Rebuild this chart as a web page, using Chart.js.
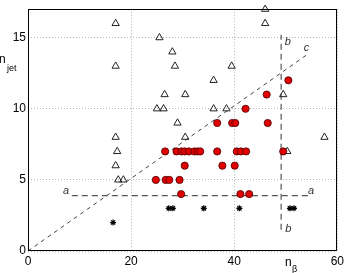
<!DOCTYPE html>
<html>
<head>
<meta charset="utf-8">
<script src="https://cdn.jsdelivr.net/npm/chart.js@4.4.1/dist/chart.umd.min.js"></script>
<style>
  html, body { margin: 0; padding: 0; background: #fff; }
  #wrap { width: 347px; height: 273px; }
</style>
</head>
<body>
<div id="wrap"><canvas id="scatter" width="347" height="273"></canvas></div>
<script>
// tick labels
const xTicks = [0, 20, 40, 60];
const yTicks = [0, 5, 10, 15];

// open triangles
const triX = [17, 25.5, 28, 17, 28.5, 39.5, 36, 26.5, 30.5, 49.5, 25, 26.3, 36, 38.5, 29, 17, 30.5, 57.5, 17.3, 50.3, 17, 17.5, 18.5, 46, 46];
const triY = [16, 15, 14, 13, 13, 13, 12, 11, 11, 11, 10, 10, 10, 10, 9, 8, 8, 8, 7, 7, 6, 5, 5, 17, 16];

// filled red circles
const dotX = [26.6, 28.8, 29.8, 30.4, 31.2, 32.3, 32.9, 33.4, 36.7, 40.5, 41.3, 42.3, 49.5,
              30.4, 37.7, 40.1,
              24.8, 26.7, 27.4, 29.4,
              29.7, 41.2, 42.9,
              36.7, 39.6, 40.2, 46.5,
              42.2, 46.3, 50.5];
const dotY = [7, 7, 7, 7, 7, 7, 7, 7, 7, 7, 7, 7, 7,
              6, 6, 6,
              5, 5, 5, 5,
              4, 4, 4,
              9, 9, 9, 9,
              10, 11, 12];

// asterisks
const starX = [16.5, 27.3, 28.1, 34.1, 41, 50.8, 51.6];
const starY = [2, 3, 3, 3, 3, 3, 3];

// dashed guide lines a, b, c (end points)
const lineAX = [8.5, 55];
const lineAY = [3.9, 3.9];
const lineBX = [49.1, 49.1];
const lineBY = [1.5, 15.2];
const lineCX = [0, 54.5];
const lineCY = [0, 13.9];

// line labels
const noteText = ['a', 'a', 'b', 'b', 'c'];
const noteX = [7.4, 54.9, 50.4, 50.5, 54.0];
const noteY = [4.23, 4.23, 14.67, 1.57, 14.25];

const pts = (xs, ys) => xs.map((x, i) => ({ x: x, y: ys[i] }));

const FONT = '"Liberation Sans", Arial, sans-serif';

// frame + annotation text
const decor = {
    id: 'decor',
    afterDatasetsDraw(chart) {
        const c = chart.ctx;
        const a = chart.chartArea;
        const sx = chart.scales.x, sy = chart.scales.y;
        c.save();
        c.strokeStyle = '#000';
        c.lineWidth = 1;
        c.strokeRect(Math.round(a.left) + 0.5, Math.round(a.top) + 0.5,
            Math.round(a.right - a.left) - 1, Math.round(a.bottom - a.top) - 1);

        c.fillStyle = '#333';
        c.font = 'italic 11px ' + FONT;
        c.textAlign = 'center';
        c.textBaseline = 'middle';
        noteText.forEach((t, i) => {
            c.fillText(t, sx.getPixelForValue(noteX[i]), sy.getPixelForValue(noteY[i]));
        });

        // axis titles
        c.fillStyle = '#000';
        c.textAlign = 'left';
        c.textBaseline = 'alphabetic';
        c.font = '12px ' + FONT;
        c.fillText('n', -1, 63);
        c.font = '9px ' + FONT;
        c.fillText('jet', 7, 71);
        c.font = '12px ' + FONT;
        c.fillText('n', 285, 266);
        c.font = '9px ' + FONT;
        c.fillText('β', 292, 272);
        c.restore();
    }
};

const ctx = document.getElementById('scatter').getContext('2d');
new Chart(ctx, {
    type: 'scatter',
    data: {
        datasets: [
            {
                data: pts(dotX, dotY),
                pointStyle: 'circle',
                pointRadius: 3.6,
                backgroundColor: '#e00000',
                borderColor: '#4a0000',
                borderWidth: 0.8
            },
            {
                data: pts(triX, triY),
                pointStyle: 'triangle',
                pointRadius: 4.2,
                backgroundColor: 'rgba(255,255,255,0)',
                borderColor: '#222',
                borderWidth: 1,
                clip: false
            },
            {
                data: pts(starX, starY),
                pointStyle: 'star',
                pointRadius: 3,
                backgroundColor: '#000',
                borderColor: '#000',
                borderWidth: 1.2
            },
            {
                data: pts(lineAX, lineAY),
                showLine: true,
                pointRadius: 0,
                borderColor: '#555',
                borderWidth: 1.2,
                borderDash: [6, 4]
            },
            {
                data: pts(lineBX, lineBY),
                showLine: true,
                pointRadius: 0,
                borderColor: '#555',
                borderWidth: 1.2,
                borderDash: [6, 4]
            },
            {
                data: pts(lineCX, lineCY),
                showLine: true,
                pointRadius: 0,
                borderColor: '#444',
                borderWidth: 1,
                borderDash: [4, 4]
            }
        ]
    },
    options: {
        responsive: false,
        animation: false,
        events: [],
        layout: { padding: { top: 6, right: 6, left: 0, bottom: 0 } },
        plugins: {
            legend: { display: false },
            tooltip: { enabled: false }
        },
        scales: {
            x: {
                type: 'linear',
                min: 0,
                max: 60,
                afterBuildTicks: (s) => { s.ticks = xTicks.map(v => ({ value: v })); },
                afterFit: (s) => { s.height = 22; },
                grid: { color: '#b4b4b4', drawTicks: false },
                border: { display: false, dash: [1, 2] },
                ticks: { color: '#000', padding: 3, maxRotation: 0, font: { family: FONT, size: 12 } }
            },
            y: {
                type: 'linear',
                min: 0,
                max: 17,
                afterBuildTicks: (s) => { s.ticks = yTicks.map(v => ({ value: v })); },
                afterFit: (s) => { s.width = 28; },
                grid: { color: '#b4b4b4', drawTicks: false },
                border: { display: false, dash: [1, 2] },
                ticks: { color: '#000', padding: 2, font: { family: FONT, size: 12 } }
            }
        }
    },
    plugins: [decor]
});
</script>
</body>
</html>
